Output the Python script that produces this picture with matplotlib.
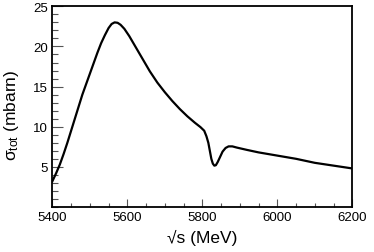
import numpy as np
import matplotlib
matplotlib.use("Agg")
import matplotlib.pyplot as plt
from matplotlib.ticker import MultipleLocator, FixedLocator

plt.rcParams['font.family'] = ['Liberation Sans', 'DejaVu Sans']
plt.rcParams['mathtext.fontset'] = 'custom'
plt.rcParams['mathtext.rm'] = 'Liberation Sans'
plt.rcParams['mathtext.it'] = 'Liberation Sans'

# sqrt(s) in MeV and total cross section in mbarn
sqrt_s = [5400, 5410, 5420, 5430, 5440, 5450, 5460, 5470, 5480, 5490,
          5500, 5510, 5520, 5530, 5540, 5550, 5558, 5566, 5574, 5582,
          5592, 5605, 5620, 5640, 5660, 5680, 5700, 5720, 5740, 5760,
          5780, 5795, 5805, 5811, 5816, 5820, 5824, 5828, 5832, 5836,
          5841, 5847, 5854, 5862, 5870, 5880, 5892, 5920, 5950, 6000,
          6050, 6100, 6150, 6200]
sigma = [3.2, 4.2, 5.3, 6.6, 8.0, 9.5, 11.0, 12.5, 14.0, 15.3,
         16.6, 17.9, 19.2, 20.4, 21.4, 22.3, 22.8, 23.0, 22.95, 22.7,
         22.2, 21.3, 20.1, 18.5, 16.9, 15.5, 14.3, 13.2, 12.2, 11.3,
         10.5, 9.95, 9.5, 8.8, 8.0, 7.0, 6.0, 5.4, 5.15, 5.2,
         5.6, 6.2, 6.9, 7.35, 7.55, 7.55, 7.4, 7.1, 6.8, 6.4,
         6.0, 5.5, 5.15, 4.8]

fig = plt.figure(figsize=(3.74, 2.53), dpi=100)
ax = fig.add_axes([0.140, 0.178, 0.802, 0.793])
ax.plot(sqrt_s, sigma, color='black', lw=1.6, solid_joinstyle='round')

ax.set_xlim(5400, 6200)
ax.set_ylim(0, 25)
ax.xaxis.set_major_locator(MultipleLocator(200))
ax.xaxis.set_minor_locator(MultipleLocator(50))
ax.yaxis.set_major_locator(FixedLocator([5, 10, 15, 20, 25]))
ax.yaxis.set_minor_locator(MultipleLocator(1))
ax.tick_params(which='both', direction='in', top=False, right=False,
               labelsize=9.5, width=0.8, color='#555555', pad=3)
ax.tick_params(axis='y', which='major', length=8)
ax.tick_params(axis='y', which='minor', length=4)
ax.tick_params(axis='x', which='major', length=6)
ax.tick_params(axis='x', which='minor', length=3)
for sp in ax.spines.values():
    sp.set_linewidth(1.3)

ax.set_xlabel('√s (MeV)', fontsize=12.5, labelpad=4)
ax.set_ylabel(r'$\sigma_{\rm tot}$ (mbarn)', fontsize=12.5)
ax.yaxis.set_label_coords(-0.105, 0.46)

fig.savefig('out.png', dpi=100)
